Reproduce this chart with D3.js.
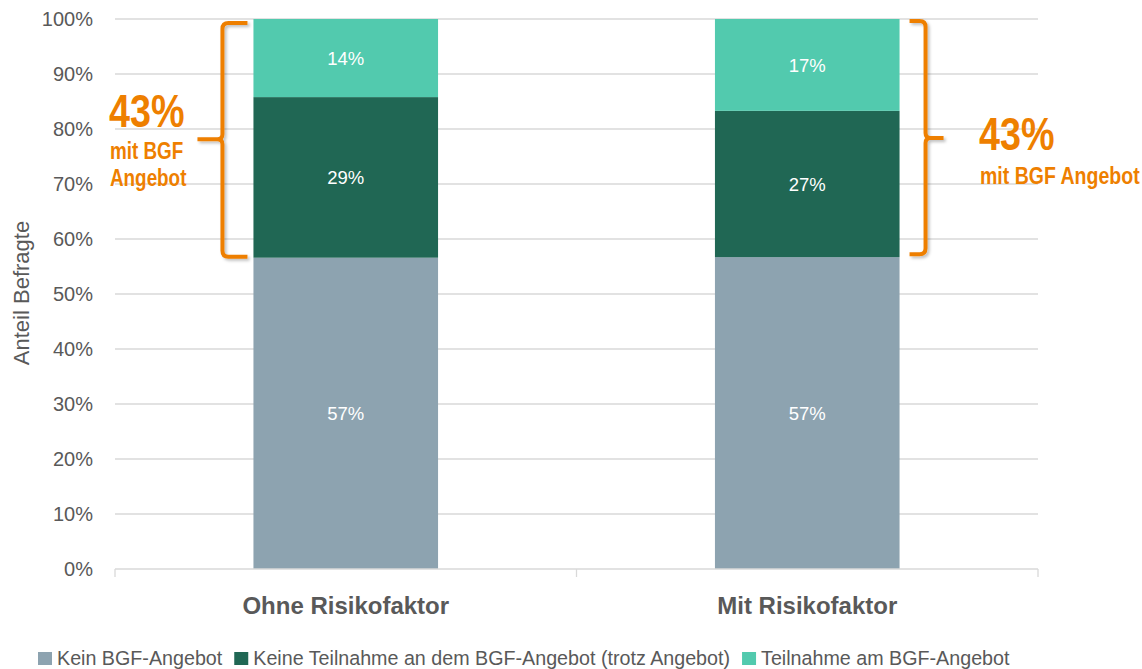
<!DOCTYPE html>
<html>
<head>
<meta charset="utf-8">
<script src="https://cdn.jsdelivr.net/npm/d3@7.9.0/dist/d3.min.js"></script>
<style>
  body { margin: 0; background: #fff; }
  text { font-family: "Liberation Sans", Arial, sans-serif; }
</style>
</head>
<body>
<svg id="chart" width="1142" height="669"></svg>
<script>
const categories = ["Ohne Risikofaktor", "Mit Risikofaktor"];
const seriesNames = ["Kein BGF-Angebot", "Keine Teilnahme an dem BGF-Angebot (trotz Angebot)", "Teilnahme am BGF-Angebot"];
const keinAngebot = [56.6, 56.7];
const keineTeilnahme = [29.2, 26.6];
const teilnahme = [14.2, 16.7];
const yTicks = [0, 10, 20, 30, 40, 50, 60, 70, 80, 90, 100];
const bracketLabel = ["43%", "mit BGF Angebot"];

const colors = ["#8DA3B0", "#206754", "#52CAAE"];
const orange = "#EE7F00";
const textColor = "#595959";

const svg = d3.select("#chart");
const margin = { top: 19, right: 104, bottom: 100, left: 115 };
const width = 1142 - margin.left - margin.right;
const height = 669 - margin.top - margin.bottom;

const defs = svg.append("defs");
defs.append("filter").attr("id", "shadow")
  .attr("x", "-50%").attr("y", "-10%").attr("width", "200%").attr("height", "120%")
  .append("feDropShadow")
  .attr("dx", 2).attr("dy", 2).attr("stdDeviation", 1.5)
  .attr("flood-color", "#000").attr("flood-opacity", 0.25);

const g = svg.append("g").attr("transform", `translate(${margin.left},${margin.top})`);

const x = d3.scaleBand().domain(categories).range([0, width]).paddingInner(0.6).paddingOuter(0.3);
const y = d3.scaleLinear().domain([0, 100]).range([height, 0]);

// gridlines
g.append("g")
  .selectAll("line")
  .data(yTicks.filter(d => d > 0))
  .join("line")
  .attr("x1", 0).attr("x2", width)
  .attr("y1", d => y(d)).attr("y2", d => y(d))
  .attr("stroke", "#D9D9D9").attr("stroke-width", 1.3);

// y axis labels
g.append("g")
  .call(d3.axisLeft(y).tickValues(yTicks).tickFormat(d => d + "%").tickSize(0).tickPadding(22))
  .call(a => a.select(".domain").remove())
  .call(a => a.selectAll("text")
    .attr("fill", textColor)
    .attr("font-size", "20px")
    .attr("font-family", "Liberation Sans, Arial, sans-serif"));

// y axis title
svg.append("text")
  .attr("transform", `translate(29,${margin.top + height / 2 - 1}) rotate(-90)`)
  .attr("text-anchor", "middle")
  .attr("fill", textColor)
  .attr("font-size", "22px")
  .text("Anteil Befragte");

// stacked bars
const rows = categories.map((c, i) => ({ cat: c, v: [keinAngebot[i], keineTeilnahme[i], teilnahme[i]] }));
rows.forEach(r => {
  let base = 0;
  r.v.forEach((val, k) => {
    const y0 = base, y1 = base + val;
    base = y1;
    g.append("rect")
      .attr("x", x(r.cat))
      .attr("width", x.bandwidth())
      .attr("y", y(y1))
      .attr("height", y(y0) - y(y1))
      .attr("fill", colors[k]);
    g.append("text")
      .attr("x", x(r.cat) + x.bandwidth() / 2)
      .attr("y", y((y0 + y1) / 2) + 7)
      .attr("text-anchor", "middle")
      .attr("fill", "#fff")
      .attr("font-size", "18.5px")
      .text(Math.round(val) + "%");
  });
});

// x axis line and ticks
const xAxis = g.append("g").attr("transform", `translate(0,${height})`);
xAxis.append("line").attr("x1", 0).attr("x2", width).attr("stroke", "#D9D9D9").attr("stroke-width", 1.3);
xAxis.selectAll(".tk")
  .data([0, width / 2, width])
  .join("line")
  .attr("x1", d => d).attr("x2", d => d)
  .attr("y1", 0).attr("y2", 8)
  .attr("stroke", "#D9D9D9").attr("stroke-width", 1.3);
xAxis.selectAll(".cat")
  .data(categories)
  .join("text")
  .attr("x", d => x(d) + x.bandwidth() / 2)
  .attr("y", 45)
  .attr("text-anchor", "middle")
  .attr("fill", textColor)
  .attr("font-size", "24px")
  .attr("font-weight", "bold")
  .text(d => d);

// brackets
const braceTop = y(100) + 3;
function bracePath(xv, xh, xt, yTop, yMid, yBot) {
  const dir = Math.sign(xh - xv);
  const r = 6;
  return `M${xh},${yTop} L${xv + dir * r},${yTop} Q${xv},${yTop} ${xv},${yTop + r}` +
    ` L${xv},${yMid - 5} Q${xv},${yMid} ${xv - dir * 5},${yMid} L${xt},${yMid}` +
    ` M${xv - dir * 5},${yMid} Q${xv},${yMid} ${xv},${yMid + 5}` +
    ` L${xv},${yBot - r} Q${xv},${yBot} ${xv + dir * r},${yBot} L${xh},${yBot}`;
}

const leftX = x(categories[0]);
const yBotL = y(keinAngebot[0]) - 1;
g.append("path")
  .attr("d", bracePath(leftX - 31, leftX - 6, leftX - 56, braceTop + 1, (braceTop + yBotL) / 2, yBotL))
  .attr("fill", "none").attr("stroke", orange).attr("stroke-width", 4)
  .attr("filter", "url(#shadow)");

const rightX = x(categories[1]) + x.bandwidth();
const yBotR = y(keinAngebot[1]) - 3;
g.append("path")
  .attr("d", bracePath(rightX + 26, rightX + 10, rightX + 44, braceTop - 1, (braceTop + yBotR) / 2, yBotR))
  .attr("fill", "none").attr("stroke", orange).attr("stroke-width", 4)
  .attr("filter", "url(#shadow)");

// bracket labels (condensed like Arial Narrow)
function narrowText(xp, yp, size, str) {
  svg.append("text")
    .attr("transform", `translate(${xp},${yp}) scale(0.82,1)`)
    .attr("fill", orange)
    .attr("font-weight", "bold")
    .attr("font-size", size + "px")
    .text(str);
}
narrowText(109, 127, 46, bracketLabel[0]);
narrowText(110, 159, 23, "mit BGF");
narrowText(110, 186, 23, "Angebot");
narrowText(979, 150, 46, bracketLabel[0]);
narrowText(980, 184, 23.8, bracketLabel[1]);

// legend
const legend = svg.append("g").attr("transform", "translate(38,665)");
let lx = 0;
seriesNames.forEach((name, i) => {
  const item = legend.append("g").attr("transform", `translate(${lx},0)`);
  item.append("rect").attr("x", 0).attr("y", -13).attr("width", 14).attr("height", 13).attr("fill", colors[i]);
  const t = item.append("text").attr("x", 19).attr("y", 0)
    .attr("fill", textColor).attr("font-size", "19.7px").text(name);
  lx += 19 + t.node().getComputedTextLength() + 12;
});
</script>
</body>
</html>
